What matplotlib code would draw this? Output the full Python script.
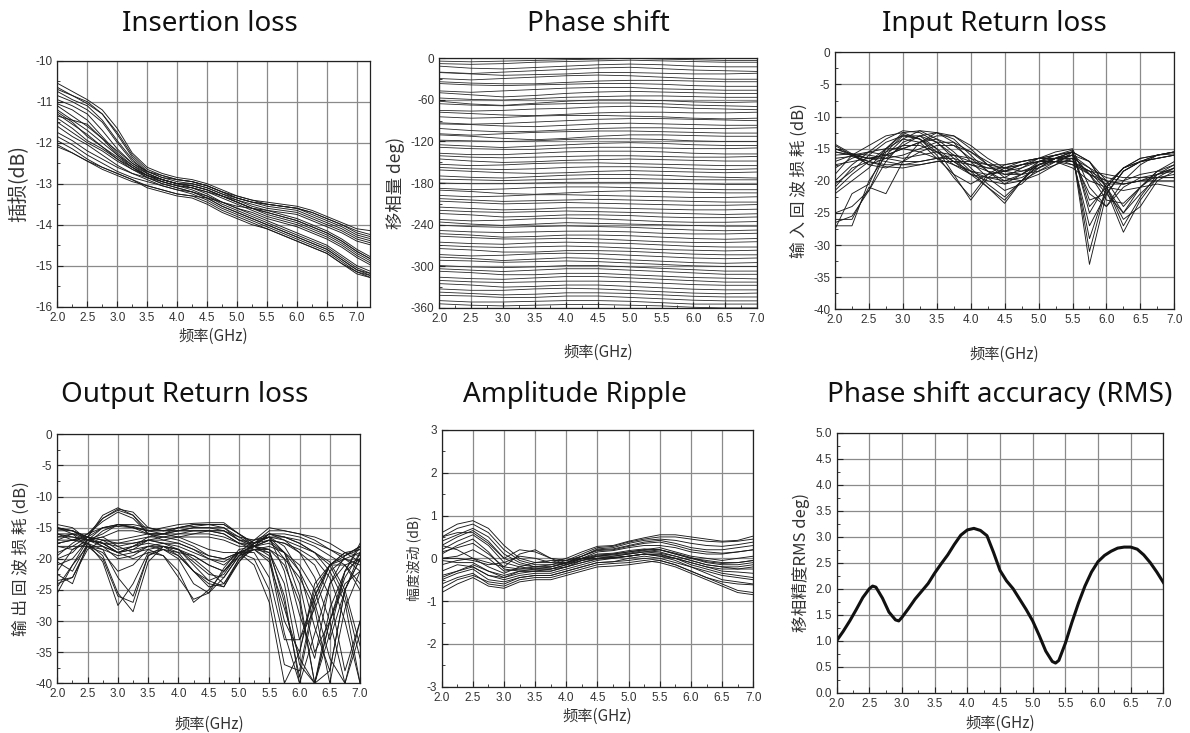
import numpy as np
import matplotlib
matplotlib.use("Agg")
import matplotlib.pyplot as plt
from matplotlib.ticker import MultipleLocator, FixedLocator

plt.rcParams['font.family'] = ['Liberation Sans', 'Noto Sans CJK SC', 'DejaVu Sans']

# ---------------- data ----------------
freq_il = [2.0, 2.25, 2.5, 2.75, 3.0, 3.25, 3.5, 3.75, 4.0, 4.25, 4.5, 4.75,
           5.0, 5.25, 5.5, 5.75, 6.0, 6.25, 6.5, 6.75, 7.0, 7.25]
insertion_loss = [
    [-10.55,-10.75,-10.95,-11.2,-11.65,-12.25,-12.6,-12.75,-12.85,-12.9,-13.0,-13.15,-13.3,-13.4,-13.45,-13.5,-13.55,-13.65,-13.8,-13.95,-14.1,-14.15],
    [-10.65,-10.85,-11.0,-11.3,-11.8,-12.35,-12.7,-12.85,-12.95,-13.0,-13.1,-13.25,-13.4,-13.55,-13.65,-13.75,-13.85,-14.0,-14.15,-14.35,-14.6,-14.8],
    [-10.75,-10.95,-11.1,-11.45,-11.95,-12.4,-12.75,-12.9,-13.0,-13.1,-13.25,-13.45,-13.6,-13.75,-13.9,-14.05,-14.2,-14.35,-14.5,-14.75,-15.0,-15.15],
    [-10.85,-11.0,-11.2,-11.5,-12.0,-12.45,-12.7,-12.85,-12.9,-12.95,-13.05,-13.2,-13.35,-13.45,-13.5,-13.55,-13.6,-13.7,-13.85,-14.0,-14.2,-14.3],
    [-10.95,-11.1,-11.3,-11.7,-12.15,-12.5,-12.75,-12.9,-13.0,-13.05,-13.15,-13.3,-13.45,-13.6,-13.7,-13.8,-13.9,-14.05,-14.2,-14.4,-14.65,-14.85],
    [-11.05,-11.2,-11.45,-11.85,-12.25,-12.55,-12.8,-12.95,-13.05,-13.15,-13.3,-13.5,-13.65,-13.8,-13.95,-14.1,-14.25,-14.4,-14.55,-14.8,-15.05,-15.2],
    [-11.1,-11.35,-11.6,-11.9,-12.2,-12.5,-12.7,-12.8,-12.9,-12.95,-13.05,-13.2,-13.3,-13.4,-13.5,-13.55,-13.6,-13.75,-13.9,-14.05,-14.25,-14.35],
    [-11.2,-11.45,-11.7,-12.0,-12.3,-12.55,-12.75,-12.9,-13.0,-13.05,-13.15,-13.3,-13.45,-13.6,-13.75,-13.85,-13.95,-14.1,-14.25,-14.45,-14.7,-14.9],
    [-11.3,-11.55,-11.8,-12.1,-12.4,-12.65,-12.85,-13.0,-13.1,-13.2,-13.35,-13.55,-13.7,-13.85,-14.0,-14.15,-14.3,-14.45,-14.6,-14.85,-15.1,-15.25],
    [-11.4,-11.65,-11.95,-12.15,-12.4,-12.6,-12.8,-12.9,-13.0,-13.0,-13.1,-13.25,-13.35,-13.45,-13.55,-13.6,-13.65,-13.8,-13.95,-14.1,-14.3,-14.4],
    [-11.5,-11.75,-12.0,-12.2,-12.45,-12.65,-12.8,-12.95,-13.05,-13.1,-13.2,-13.35,-13.5,-13.65,-13.8,-13.9,-14.0,-14.15,-14.3,-14.5,-14.75,-14.95],
    [-11.6,-11.85,-12.05,-12.3,-12.55,-12.75,-12.9,-13.05,-13.15,-13.25,-13.4,-13.6,-13.75,-13.9,-14.05,-14.2,-14.35,-14.5,-14.65,-14.9,-15.15,-15.3],
    [-11.75,-11.95,-12.2,-12.4,-12.6,-12.75,-12.85,-12.95,-13.05,-13.1,-13.2,-13.3,-13.4,-13.5,-13.6,-13.65,-13.7,-13.85,-14.0,-14.15,-14.35,-14.45],
    [-11.85,-12.05,-12.3,-12.5,-12.7,-12.85,-12.95,-13.05,-13.15,-13.2,-13.3,-13.45,-13.6,-13.7,-13.85,-13.95,-14.05,-14.2,-14.35,-14.55,-14.8,-15.0],
    [-11.95,-12.15,-12.4,-12.6,-12.75,-12.9,-13.05,-13.15,-13.25,-13.3,-13.45,-13.65,-13.8,-13.95,-14.1,-14.25,-14.4,-14.55,-14.7,-14.95,-15.2,-15.3],
    [-12.05,-12.25,-12.45,-12.65,-12.8,-12.95,-13.05,-13.15,-13.25,-13.3,-13.35,-13.45,-13.55,-13.6,-13.65,-13.7,-13.75,-13.9,-14.05,-14.2,-14.4,-14.5],
    [-10.7,-10.85,-11.05,-11.3,-11.75,-12.3,-12.65,-12.8,-12.9,-12.95,-13.05,-13.2,-13.35,-13.45,-13.5,-13.55,-13.6,-13.7,-13.85,-14.0,-14.15,-14.25],
    [-11.25,-11.5,-11.85,-12.1,-12.35,-12.6,-12.8,-12.9,-13.0,-13.05,-13.15,-13.3,-13.45,-13.6,-13.7,-13.8,-13.9,-14.05,-14.2,-14.4,-14.65,-14.85],
    [-11.35,-11.45,-11.55,-11.9,-12.3,-12.6,-12.85,-13.0,-13.1,-13.2,-13.35,-13.55,-13.7,-13.85,-14.0,-14.15,-14.3,-14.45,-14.6,-14.85,-15.1,-15.2],
    [-12.1,-12.25,-12.45,-12.6,-12.75,-12.9,-13.1,-13.2,-13.3,-13.35,-13.5,-13.7,-13.85,-14.0,-14.1,-14.25,-14.4,-14.55,-14.7,-14.95,-15.15,-15.25],
]

freq_ps = [2.0, 2.5, 3.0, 3.5, 4.0, 4.5, 5.0, 5.5, 6.0, 6.5, 7.0]
phase_states = [-5.625 * k for k in range(64)]
phase_dev = [
    [-4,-5,-4,-3,-2,-1,0,-1,-2,-3,-3],[-2,-3,-2,0,1,2,3,2,1,0,0],[0,-3,-4,-2,0,2,3,2,0,-1,-1],
    [-3,-5,-3,-1,1,3,4,2,0,-1,-2],[2,0,-2,-1,0,2,2,1,0,0,1],[-1,-3,-1,1,3,4,3,1,-1,-2,-2],
    [0,-2,-3,-3,-1,1,2,2,1,0,0],[3,1,0,1,2,3,3,2,0,-1,-1],[-2,-4,-2,0,2,3,3,1,0,-1,-1],
    [1,-2,-5,-3,0,2,3,2,1,0,0],[-1,-3,-4,-2,0,1,2,2,1,0,0],[0,-4,-6,-3,0,2,2,1,-1,-2,-1],
    [2,0,-1,1,2,3,3,2,0,-1,-2],[-2,-3,-2,0,1,3,4,3,1,0,-1],[1,-1,-3,-4,-2,0,1,1,0,0,1],
    [0,-2,-1,1,2,2,1,0,-2,-3,-2],[-3,-5,-4,-2,0,2,3,3,2,1,0],[1,0,-2,-3,-1,1,2,1,0,-1,-1],
    [0,-3,-5,-4,-2,0,1,1,0,0,1],[-2,-4,-2,0,1,2,2,1,0,-1,-1],[2,0,-3,-5,-3,0,2,2,1,0,0],
    [0,-1,-2,-1,1,2,2,1,-1,-2,-2],[-1,-3,-5,-3,-1,1,2,1,-1,-2,-2],[1,-1,-2,-2,0,1,1,0,-1,-1,0],
    [-2,-4,-4,-2,0,1,1,0,-2,-3,-3],[0,-2,-3,-2,-1,0,0,-1,-2,-2,-1],[1,-2,-4,-3,-1,0,1,0,-1,-2,-2],
    [-1,-3,-2,0,1,1,0,-1,-2,-3,-3],[0,-2,-3,-2,0,1,1,0,-2,-3,-2],[2,0,-2,-3,-2,0,1,0,-1,-2,-1],
    [-1,-3,-4,-2,0,1,1,0,-2,-3,-4],[0,-1,-2,-1,0,1,1,0,-1,-1,-1],[0,-1,-1,0,1,1,1,0,-1,-2,-2],
    [-2,-4,-3,-1,0,0,-1,-2,-3,-4,-4],[1,-1,-4,-5,-3,-1,0,-1,-2,-3,-3],[-1,-3,-2,0,0,-1,-2,-3,-4,-4,-3],
    [0,-2,-4,-3,-2,-1,-2,-3,-4,-5,-5],[2,0,-2,-1,0,-1,-2,-3,-4,-4,-3],[-1,-3,-5,-4,-2,-2,-3,-4,-5,-5,-4],
    [0,-2,-3,-2,-1,-2,-3,-4,-5,-6,-5],[1,-1,-4,-3,-1,-1,-2,-4,-5,-5,-4],[-2,-4,-3,-1,0,-1,-3,-5,-6,-6,-5],
    [0,-3,-5,-3,-1,-2,-3,-4,-5,-6,-6],[1,-1,-2,-1,0,-1,-2,-4,-6,-7,-6],[-1,-3,-4,-3,-2,-2,-3,-5,-6,-6,-5],
    [0,-2,-5,-4,-2,-2,-3,-5,-7,-8,-7],[2,0,-2,-2,-1,-2,-4,-6,-7,-7,-6],[-1,-3,-4,-2,-1,-2,-3,-5,-7,-8,-8],
    [0,-2,-3,-2,-1,-2,-4,-6,-7,-8,-7],[1,-1,-4,-4,-2,-2,-3,-5,-7,-8,-8],[-2,-4,-3,-1,0,-1,-3,-5,-7,-8,-7],
    [0,-2,-5,-3,-1,-2,-4,-6,-8,-9,-8],[1,0,-2,-1,0,-1,-3,-5,-7,-8,-8],[-1,-3,-4,-3,-1,-1,-3,-5,-7,-9,-9],
    [0,-2,-4,-2,0,0,-2,-4,-6,-8,-8],[2,0,-3,-3,-1,-1,-3,-5,-7,-8,-9],[-1,-3,-4,-2,0,0,-2,-4,-6,-8,-8],
    [0,-2,-3,-2,-1,-1,-2,-4,-6,-7,-7],[1,-1,-4,-3,-1,-1,-3,-5,-7,-8,-8],[-1,-3,-3,-1,0,-1,-3,-5,-7,-8,-7],
    [0,-2,-4,-3,-1,-1,-2,-4,-6,-7,-7],[1,0,-2,-2,0,0,-2,-4,-6,-7,-7],[-1,-3,-3,-2,-1,-1,-2,-4,-6,-6,-6],
    [0,-2,-3,-2,-1,-1,-2,-3,-5,-6,-6],
]

freq = [2.0, 2.25, 2.5, 2.75, 3.0, 3.25, 3.5, 3.75, 4.0, 4.25, 4.5, 4.75,
        5.0, 5.25, 5.5, 5.75, 6.0, 6.25, 6.5, 6.75, 7.0]
input_rl = [
    [-27.5,-22,-20.5,-15,-12.8,-13.5,-16,-19.5,-22.5,-19,-17.5,-17,-16.5,-16.5,-16.5,-27,-22,-18.5,-17,-16,-15.8],
    [-26.5,-25.5,-21.5,-15.5,-13,-13,-15,-19,-23,-19.5,-18,-17,-16.5,-16,-15.5,-24,-21,-18,-16.5,-16,-15.5],
    [-27,-27,-20,-16,-13.5,-14,-16.5,-19,-20.5,-19,-18.5,-17.5,-17,-17,-16,-29,-21,-18,-17,-16.5,-16],
    [-25,-24,-21.5,-17,-14,-13,-14,-16,-18.5,-21,-23.5,-20,-17.5,-16.5,-15.5,-33,-22,-18.5,-17,-16.5,-16],
    [-21,-18,-17,-15,-12.5,-12.2,-13.5,-15.5,-18,-20.5,-22.5,-20,-17.5,-16.5,-15.5,-31,-21,-18,-16.5,-16,-15.5],
    [-20,-17.5,-15.5,-13.5,-12.2,-12.5,-14,-16.5,-19,-21,-23,-20,-17,-16,-15.2,-25,-20.5,-18,-17,-16.5,-16],
    [-19,-16,-14.5,-13,-12.5,-13.5,-15.5,-17.5,-19,-19.5,-19.5,-18,-16.5,-15.5,-15,-21,-24,-20,-17.5,-16,-15.5],
    [-14.5,-16,-17.5,-16.5,-14.5,-13,-12.5,-13.5,-16,-18.5,-20,-19.5,-18,-16.5,-16,-19,-22,-25,-21,-18.5,-17],
    [-15,-16,-16.5,-16,-15,-14,-13.5,-14.5,-16.5,-18.5,-20.5,-20,-18.5,-17,-17,-18.5,-21.5,-28,-23,-19.5,-18],
    [-15.5,-16,-16.5,-16.5,-16,-15,-14,-14,-15.5,-17.5,-19.5,-20,-19,-17.5,-16.5,-18,-21,-26,-24,-20,-18.5],
    [-16,-15.8,-16,-16.5,-17,-17,-16.5,-16,-16.5,-17.5,-18,-17.5,-17,-16.5,-17,-18.5,-20,-20.5,-20,-19,-18],
    [-17.5,-17,-16.5,-17,-17.5,-17.5,-17,-17,-17,-17.5,-17.5,-17,-16.5,-16.5,-17.5,-18.5,-19,-19.5,-19.5,-19.5,-19.5],
    [-18,-16.5,-15.5,-15,-15,-15.5,-16.5,-17.5,-18.5,-19,-18.5,-17.5,-16.5,-16,-17,-19,-20.5,-20.5,-20,-20,-20],
    [-21.5,-19,-17,-15.5,-14.5,-14.5,-15.5,-17,-18.5,-19.5,-20,-19,-17.5,-16.5,-16.5,-22,-24,-21,-19.5,-19,-18.5],
    [-15.5,-16,-17,-17.5,-17.5,-17,-16.5,-16.5,-17.5,-18.5,-19,-18.5,-17.5,-17,-18,-20,-21,-21.5,-21,-20.5,-21],
    [-14.3,-15.8,-17.5,-18,-17,-15.5,-14.5,-14.5,-15.5,-17,-18.5,-19,-18.5,-17.5,-15.5,-17,-21,-25,-22,-19.5,-19],
    [-20.5,-18.5,-16,-14,-13,-13.5,-15,-17,-19,-20,-20.5,-19,-17,-16,-15.5,-23,-22,-18.5,-17,-16,-15.5],
    [-17,-16,-15.5,-16,-16.5,-16,-15.5,-16,-17,-18,-18.5,-18,-17,-16.5,-16,-18,-19.5,-20,-19,-18.5,-18.5],
    [-16.5,-16.2,-17,-17.8,-18,-17.5,-17,-17,-17.5,-18,-18,-17.5,-17,-17,-17.5,-19,-20,-20.5,-20,-19.5,-19.5],
    [-26,-26,-21,-22,-17,-14,-12.5,-13,-15,-17.5,-19,-19,-17.5,-16.5,-16,-19,-23,-23.5,-21,-18.5,-17.5],
    [-22,-20,-18,-15,-13.5,-12.2,-12.5,-14,-17,-19.5,-21.5,-20.5,-18,-16.5,-15.5,-17,-21,-27,-22.5,-19,-17.5],
    [-15,-15.8,-16.5,-16,-15,-14,-13,-13,-14.5,-16.5,-18,-18.5,-18,-17,-16,-17,-20,-24,-21,-19,-18],
]

output_rl = [
    [-15,-15.5,-16.5,-13.5,-12,-12.5,-15,-15.5,-15,-14.5,-14.5,-14.5,-16,-17.5,-15.5,-15.5,-16,-17,-18.5,-20,-22],
    [-16,-16,-16,-13.5,-12.2,-13,-15.5,-16,-15.5,-15,-15,-15,-16.5,-17,-15,-15.5,-16,-16.5,-17.5,-19,-20.5],
    [-17.5,-17,-16,-14,-12.5,-13.5,-16,-16,-15,-14.5,-14.5,-15,-17,-18,-16,-16.5,-17.5,-19,-20.5,-25,-34],
    [-20,-19,-16.5,-13,-11.8,-13,-16,-17,-16.5,-16,-15.5,-16,-17.5,-18,-17,-17.5,-19,-21,-26,-38,-30],
    [-22,-18.5,-17,-15,-14.5,-14.5,-15,-15.5,-15.5,-15.5,-15.5,-15.5,-16.5,-18,-18.5,-20,-23,-28,-40,-28,-22],
    [-14.5,-15,-17,-16,-14.5,-15,-16,-16.5,-16,-15.5,-15.5,-16,-17.5,-18.5,-18,-19,-21,-25,-33,-25,-20],
    [-15,-16,-18,-20,-26,-27,-19.5,-18,-18.5,-20,-22,-24,-20.5,-17.5,-17,-19,-24,-35,-30,-22,-18],
    [-16,-17,-17.5,-20.5,-27.5,-24,-19,-18.5,-19.5,-22,-24.5,-24,-20,-17.5,-16.5,-18,-22,-31,-38,-25,-19],
    [-18,-18.5,-17.5,-19.5,-25.5,-28.5,-20.5,-18,-18.5,-21,-23.5,-24.5,-20.5,-18,-17,-20,-29,-36,-24,-19.5,-18],
    [-20.5,-22,-17.5,-18.5,-23,-26,-19.5,-18.5,-20,-24,-25.5,-23,-19.5,-17.5,-16.5,-22,-33,-26,-21,-19,-19.5],
    [-23.5,-23,-18,-18,-19,-20,-19,-19.5,-22,-27,-25,-22,-19,-18,-18.5,-27,-39,-27,-21,-20,-21],
    [-25.5,-21,-17,-16.5,-18,-19,-18.5,-19.5,-23,-26.5,-25.5,-21.5,-18.5,-18,-19.5,-30,-35,-24,-21,-21,-24],
    [-17,-16,-16.5,-17,-18.5,-18,-17.5,-18,-19.5,-22,-23.5,-22.5,-19,-17,-16.5,-19,-26,-40,-30,-23,-19],
    [-16.5,-16,-17,-17.5,-17.5,-17,-16.5,-16.5,-16.5,-16.5,-16.5,-17,-18,-18,-17,-17.5,-18.5,-20,-23,-30,-40],
    [-15.5,-15.5,-16.5,-17,-17,-16.5,-16,-16,-16,-16,-16,-16.5,-17.5,-17.5,-16.5,-17,-18,-19,-21,-26,-36],
    [-19.5,-17.5,-16,-15,-14.8,-15,-15.5,-15.5,-15,-14.8,-14.5,-14.5,-16,-17.5,-16.5,-16.5,-17,-18,-19.5,-21,-25],
    [-21,-20,-17,-17.5,-19,-18.5,-18,-18.5,-19,-19.5,-21,-22,-19,-18,-19,-24,-37,-40,-30,-24,-22],
    [-24,-23,-18.5,-17,-17.5,-17.5,-17,-17.5,-18.5,-20.5,-22.5,-23,-19.5,-18.5,-20,-32,-40,-32,-24,-21,-20],
    [-18,-18,-18,-18.5,-19.5,-19,-18,-18,-18.5,-19.5,-21,-22,-19.5,-18.5,-19,-26,-40,-40,-28,-22,-20],
    [-17,-17,-16.5,-17.5,-19,-18,-16.5,-16,-16.5,-17.5,-18.5,-19,-19,-21,-27,-40,-35,-25,-21,-19,-18.5],
    [-16,-16.5,-17,-17.5,-19,-18.5,-17,-16.5,-17,-18,-19.5,-20,-19,-20,-25,-37,-38,-26,-21,-19.5,-18],
    [-15.2,-15.5,-16.5,-18,-20,-19.5,-18,-17.5,-17.5,-18.5,-20,-21,-19,-19,-23,-33,-33,-28,-22,-20,-19],
    [-22.5,-24,-17.5,-15.5,-14.5,-14.8,-15.5,-15,-14.5,-14.3,-14.2,-14.2,-16,-18,-16,-16,-16.5,-17.5,-18.5,-19.5,-18.5],
    [-24.5,-21,-18,-19,-22,-21,-18.5,-18,-19,-22,-24,-24.5,-20,-18.5,-20.5,-28,-36,-40,-32,-22,-17.5],
    [-16.5,-16.5,-17,-18,-19,-18,-17,-17,-17.5,-18.5,-19.5,-20,-19,-18,-17.5,-19,-22,-27,-36,-40,-30],
    [-19,-18,-16.5,-15,-14.5,-15,-15.5,-15.5,-15.5,-15.5,-15.5,-15.5,-17,-17,-16,-17,-19,-23,-30,-40,-32],
    [-17.5,-17,-17,-17.5,-18,-17.5,-17,-17.5,-18,-19,-20,-20.5,-19,-18.5,-18.5,-21,-27,-40,-38,-25,-20],
    [-15,-15.5,-17,-16.5,-15.5,-15.5,-16,-16,-15.5,-15,-15,-15.5,-17,-17.5,-16,-16.5,-17.5,-19,-22,-27,-40],
]

amplitude_ripple = [
    [0.6,0.8,0.88,0.7,0.3,0.0,-0.1,-0.1,0.0,0.15,0.28,0.3,0.4,0.48,0.55,0.55,0.5,0.45,0.4,0.42,0.52],
    [0.5,0.7,0.8,0.6,0.2,-0.05,-0.15,-0.15,-0.05,0.1,0.25,0.28,0.38,0.45,0.5,0.5,0.45,0.4,0.38,0.4,0.45],
    [0.3,0.5,0.65,0.4,0.0,-0.15,-0.2,-0.2,-0.1,0.05,0.2,0.22,0.3,0.38,0.42,0.35,0.25,0.2,0.2,0.25,0.3],
    [0.2,0.4,0.55,0.3,-0.1,-0.2,-0.25,-0.25,-0.15,0.0,0.15,0.18,0.25,0.3,0.3,0.25,0.15,0.1,0.1,0.15,0.2],
    [0.1,0.3,0.45,0.15,-0.25,-0.3,-0.3,-0.3,-0.2,-0.05,0.05,0.1,0.15,0.2,0.25,0.15,0.05,0.0,-0.05,0.0,0.05],
    [0.15,0.25,0.35,0.1,-0.2,0.1,0.2,0.0,-0.15,-0.05,0.05,0.05,0.1,0.15,0.2,0.1,0.0,-0.05,-0.1,-0.1,-0.05],
    [0.0,0.05,0.2,0.0,-0.3,-0.25,-0.2,-0.15,-0.1,0.0,0.1,0.12,0.18,0.22,0.2,0.1,0.0,-0.1,-0.15,-0.15,-0.1],
    [-0.05,-0.1,-0.1,-0.3,-0.45,-0.35,-0.3,-0.25,-0.15,-0.05,0.0,0.05,0.1,0.15,0.12,0.05,-0.05,-0.15,-0.2,-0.2,-0.15],
    [0.0,0.0,-0.05,-0.15,-0.1,0.05,0.0,-0.1,-0.1,0.0,0.0,0.02,0.05,0.1,0.1,0.0,-0.15,-0.25,-0.35,-0.4,-0.45],
    [-0.15,-0.05,0.0,-0.2,-0.35,-0.2,-0.1,-0.05,-0.05,0.0,0.05,0.08,0.12,0.18,0.15,0.05,-0.05,-0.15,-0.2,-0.25,-0.25],
    [-0.4,-0.3,-0.2,-0.4,-0.5,-0.4,-0.35,-0.35,-0.25,-0.15,-0.05,0.0,0.05,0.1,0.05,-0.05,-0.2,-0.35,-0.5,-0.55,-0.6],
    [-0.5,-0.35,-0.25,-0.5,-0.55,-0.45,-0.4,-0.4,-0.3,-0.2,-0.1,-0.08,-0.05,0.0,-0.05,-0.15,-0.3,-0.45,-0.6,-0.75,-0.8],
    [-0.6,-0.45,-0.35,-0.6,-0.65,-0.5,-0.45,-0.45,-0.35,-0.25,-0.15,-0.12,-0.1,-0.05,-0.1,-0.2,-0.35,-0.5,-0.65,-0.8,-0.85],
    [-0.8,-0.6,-0.45,-0.65,-0.7,-0.55,-0.5,-0.5,-0.4,-0.3,-0.2,-0.18,-0.15,-0.1,-0.05,-0.15,-0.3,-0.45,-0.55,-0.6,-0.62],
    [-0.7,-0.5,-0.4,-0.55,-0.6,-0.45,-0.4,-0.4,-0.3,-0.2,-0.1,-0.08,0.0,0.05,0.0,-0.1,-0.2,-0.3,-0.4,-0.45,-0.5],
    [0.5,0.6,0.6,0.35,0.0,0.2,0.15,0.0,-0.05,0.05,0.18,0.2,0.28,0.35,0.38,0.3,0.2,0.15,0.12,0.15,0.2],
    [-0.3,-0.15,-0.2,-0.4,-0.45,-0.3,-0.25,-0.2,-0.12,-0.02,0.08,0.1,0.15,0.2,0.2,0.12,0.02,-0.08,-0.12,-0.1,-0.05],
    [0.3,0.2,0.0,-0.1,-0.2,-0.25,-0.25,-0.25,-0.2,-0.1,0.0,0.02,0.05,0.1,0.05,0.0,-0.1,-0.2,-0.25,-0.25,-0.2],
    [-0.45,-0.3,-0.15,-0.3,-0.4,-0.3,-0.3,-0.3,-0.2,-0.1,-0.02,0.0,0.05,0.1,0.08,0.0,-0.1,-0.2,-0.3,-0.32,-0.35],
    [0.4,0.55,0.7,0.5,0.1,-0.1,-0.2,-0.2,-0.1,0.05,0.22,0.25,0.35,0.42,0.45,0.42,0.35,0.3,0.28,0.32,0.38],
]

freq_rms = [2.0,2.1,2.2,2.3,2.4,2.5,2.55,2.6,2.7,2.8,2.9,2.95,3.0,3.1,3.2,3.3,3.4,3.5,3.6,3.7,3.8,3.9,
            4.0,4.1,4.2,4.3,4.4,4.5,4.6,4.7,4.8,4.9,5.0,5.1,5.2,5.3,5.35,5.4,5.5,5.6,5.7,5.8,5.9,
            6.0,6.1,6.2,6.3,6.4,6.5,6.6,6.7,6.8,6.9,7.0]
rms_phase = [1.0,1.18,1.38,1.6,1.83,2.0,2.05,2.03,1.82,1.55,1.4,1.38,1.45,1.62,1.8,1.95,2.1,2.3,2.48,2.65,2.85,3.03,
             3.13,3.16,3.12,3.02,2.7,2.35,2.15,2.0,1.8,1.6,1.38,1.1,0.8,0.6,0.57,0.62,0.95,1.35,1.72,2.05,2.32,
             2.52,2.64,2.72,2.78,2.8,2.8,2.76,2.65,2.5,2.32,2.12]

titles = ["Insertion loss", "Phase shift", "Input Return loss",
          "Output Return loss", "Amplitude Ripple", "Phase shift accuracy (RMS)"]
ylabels = ["插损(dB)", "移相量 deg)", "输 入 回 波 损 耗 (dB)",
           "输 出 回 波 损 耗 (dB)", "幅度波动 (dB)", "移相精度RMS deg)"]
xlabel = "频率(GHz)"
x_ticks = [2.0, 2.5, 3.0, 3.5, 4.0, 4.5, 5.0, 5.5, 6.0, 6.5, 7.0]

# ---------------- figure ----------------
fig = plt.figure(figsize=(11.9, 7.33), dpi=100)
cjk = ['Noto Sans CJK SC', 'DejaVu Sans']

rects = [
    [0.0482, 0.5816, 0.2627, 0.3356],
    [0.3692, 0.5802, 0.2667, 0.3402],
    [0.7017, 0.5780, 0.2851, 0.3506],
    [0.0482, 0.0678, 0.2544, 0.3397],
    [0.3712, 0.0632, 0.2618, 0.3502],
    [0.7031, 0.0550, 0.2745, 0.3547],
]
title_pos = [(0.176, 0.967), (0.5025, 0.967), (0.836, 0.967),
             (0.155, 0.461), (0.483, 0.461), (0.840, 0.461)]

axes = [fig.add_axes(r) for r in rects]

def style(ax, ylim, ymaj, ymin_, xlim=(2.0, 7.0), yfmt=None):
    ax.set_xlim(*xlim)
    ax.set_ylim(*ylim)
    ax.xaxis.set_major_locator(FixedLocator(x_ticks))
    ax.xaxis.set_minor_locator(MultipleLocator(0.25))
    ax.yaxis.set_major_locator(MultipleLocator(ymaj))
    ax.yaxis.set_minor_locator(MultipleLocator(ymin_))
    ax.set_xticklabels([f"{v:.1f}" for v in x_ticks])
    if yfmt:
        ax.yaxis.set_major_formatter(plt.FuncFormatter(lambda v, p: yfmt.format(v)))
    ax.grid(True, which='major', color='#8a8a8a', linewidth=0.9)
    ax.set_axisbelow(True)
    ax.tick_params(which='both', direction='in', colors='#222222', labelsize=8.5,
                   labelcolor='#333333')
    ax.tick_params(which='major', length=4, width=0.8)
    ax.tick_params(which='minor', length=2, width=0.6)
    for s in ax.spines.values():
        s.set_color('#222222')
        s.set_linewidth(0.9)

lc = '#1a1a1a'
lw = 0.65

ax = axes[0]
for c in insertion_loss:
    ax.plot(freq_il, c, color=lc, lw=lw)
style(ax, (-16, -10), 1, 0.5, xlim=(2.0, 7.22), yfmt="{:.0f}")

ax = axes[1]
for s, d in zip(phase_states, phase_dev):
    ax.plot(freq_ps, [s + v for v in d], color='#2a2a2a', lw=0.6)
style(ax, (-360, 0), 60, 30, yfmt="{:.0f}")

ax = axes[2]
for c in input_rl:
    ax.plot(freq, c, color=lc, lw=lw)
style(ax, (-40, 0), 5, 2.5, yfmt="{:.0f}")

ax = axes[3]
for c in output_rl:
    ax.plot(freq, c, color=lc, lw=lw)
style(ax, (-40, 0), 5, 2.5, yfmt="{:.0f}")

ax = axes[4]
for c in amplitude_ripple:
    ax.plot(freq, c, color=lc, lw=lw)
style(ax, (-3, 3), 1, 0.5, yfmt="{:.0f}")

ax = axes[5]
ax.plot(freq_rms, rms_phase, color='#111111', lw=2.2)
style(ax, (0, 5), 0.5, 0.25, yfmt="{:.1f}")

ylabel_sizes = [14, 12.5, 12, 12, 10, 12]
xlabel_pads = [3, 14, 14, 11, 3, 4]
for i, ax in enumerate(axes):
    ax.set_ylabel(ylabels[i], family=cjk, fontsize=ylabel_sizes[i], color='#333333')
    ax.set_xlabel(xlabel, family=cjk, fontsize=11, color='#333333', labelpad=xlabel_pads[i])
    fig.text(title_pos[i][0], title_pos[i][1], titles[i], family=['Noto Sans', 'DejaVu Sans'],
             fontsize=20, ha='center', va='center', color='#111111')

fig.savefig("out.png", dpi=100)
